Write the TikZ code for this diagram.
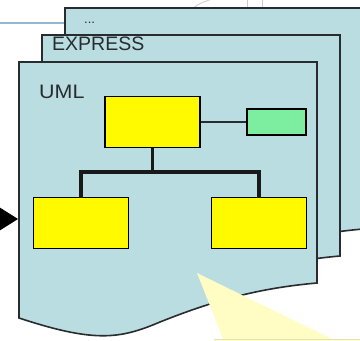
\documentclass[tikz,border=0pt]{standalone}
\usepackage{fontspec}
\setmainfont{Liberation Sans}
\usetikzlibrary{arrows.meta}
\definecolor{sheetfill}{RGB}{186,221,226}
\definecolor{sheetline}{RGB}{40,44,46}
\definecolor{classfill}{RGB}{255,250,0}
\definecolor{attrfill}{RGB}{125,238,160}
\definecolor{calloutfill}{RGB}{255,253,196}
\definecolor{calloutline}{RGB}{225,225,190}
\definecolor{rulecolor}{RGB}{150,182,214}
\tikzset{
  sheet/.style={fill=sheetfill, draw=sheetline, line width=1.6pt, line join=miter},
  classbox/.style={draw=black, fill=classfill, line width=1.5pt, minimum width=95pt, minimum height=51pt, inner sep=0pt},
  attrbox/.style={draw=black, fill=attrfill, line width=1.5pt, minimum width=59pt, minimum height=26pt, inner sep=0pt},
  tree/.style={draw=black!90, line width=3.2pt},
  assoc/.style={draw=sheetline, line width=1.8pt},
  label/.style={anchor=base west, inner sep=0pt, text=sheetline}
}
% one document page with a wavy lower edge
\newcommand{\pagepath}{(19,62) -- (317,62) -- (317,283)
  .. controls (260,288) and (215,300) .. (160,322)
  .. controls (120,339) and (95,343) .. (19,318) -- cycle}
\begin{document}
\begin{tikzpicture}[x=1pt,y=-1pt]
\useasboundingbox (0,0) rectangle (360,341);
\clip (0,0) rectangle (360,341);
\fill[white] (0,0) rectangle (360,341);

% bits of neighbouring drawings along the top edge
\draw[rulecolor, line width=1.8pt] (0,23) -- (70,23);
\draw[black!20, line width=0.8pt] (193,8) .. controls (200,3) and (207,0) .. (214,-1);
\draw[black!20, line width=0.8pt] (247,8) -- (247,0) (262,8) -- (262,0);

% stacked pages
\draw[sheet, shift={(46,-54)}] \pagepath;
\draw[sheet, shift={(23,-27)}] \pagepath;
\draw[sheet] \pagepath;

\node[label, font=\fontsize{13}{13}\selectfont] (dots) at (84,23) {...};
\node[label, font=\fontsize{19.5}{20}\selectfont] (express) at (52,50) {EXPRESS};
\node[label, font=\fontsize{19.5}{20}\selectfont, xscale=1.1] (uml) at (39,98) {UML};

% class diagram
\node[classbox] (top) at (152.5,122) {};
\node[attrbox] (attr) at (276.5,122) {};
\node[classbox] (left) at (81,223) {};
\node[classbox] (right) at (259,223) {};
\coordinate (fork) at (152.5,172);
\draw[assoc] (top.east) -- (attr.west);
\draw[tree] (top.south) -- (fork);
\draw[tree, line cap=rect] (left.north) |- (fork) -| (right.north);

% incoming arrow
\coordinate (arrowstart) at (-40,219);
\coordinate (arrowend) at (18,219);
\draw[black, line width=1pt, -{Triangle[length=24pt,width=30pt]}] (arrowstart) -- (arrowend);

% callout pointer
\fill[calloutfill] (197,273) -- (224,341) -- (336,341) -- cycle;
\fill[calloutfill] (214,339) rectangle (360,345);
\draw[calloutline, line width=0.8pt] (214,339) -- (360,339);
\end{tikzpicture}
\end{document}
